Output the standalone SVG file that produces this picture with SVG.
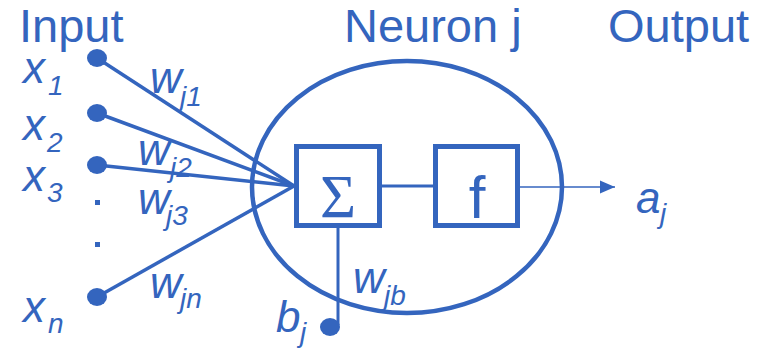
<svg xmlns="http://www.w3.org/2000/svg" width="764" height="351" viewBox="0 0 764 351">
<style>
.t{font-family:"Liberation Sans",Arial,sans-serif;fill:#3465BE}
.h{font-size:47px}
.v{font-size:44px;font-style:italic}
.s{font-size:28px;font-style:italic}
.ln{stroke:#3465BE;fill:none}
.dot{fill:#3465BE}
</style>
<defs>
<marker id="arr" markerWidth="16" markerHeight="14" refX="15" refY="7" orient="auto" markerUnits="userSpaceOnUse">
<path d="M0,0.5 L15,7 L0,13.5 Z" fill="#3465BE"/>
</marker>
</defs>
<rect width="764" height="351" fill="#fff"/>
<g id="headers">
<text class="t h" x="19" y="42">Input</text>
<text class="t h" x="344" y="42">Neuron j</text>
<text class="t h" x="608" y="42">Output</text>
</g>
<g id="neuron">
<ellipse class="ln" cx="407" cy="187" rx="155" ry="126" stroke-width="4.5"/>
</g>
<g id="connectors">
<line class="ln" x1="97" y1="58" x2="294" y2="186" stroke-width="3.5"/>
<line class="ln" x1="97" y1="113" x2="294" y2="186" stroke-width="3.5"/>
<line class="ln" x1="97" y1="165" x2="294" y2="186" stroke-width="3.5"/>
<line class="ln" x1="97" y1="297" x2="294" y2="186" stroke-width="3.5"/>
<line class="ln" x1="382" y1="186" x2="434" y2="186" stroke-width="3"/>
<line class="ln" x1="338" y1="227" x2="338" y2="325" stroke-width="3"/>
<line class="ln" x1="519" y1="187" x2="615" y2="187" stroke-width="1.6" marker-end="url(#arr)"/>
</g>
<g id="inputs">
<ellipse class="dot" cx="97" cy="58" rx="10" ry="9"/>
<ellipse class="dot" cx="97" cy="113" rx="10" ry="9"/>
<ellipse class="dot" cx="97" cy="165" rx="10" ry="9"/>
<ellipse class="dot" cx="97" cy="297" rx="10" ry="9"/>
<rect class="dot" x="95" y="200" width="5" height="5"/>
<rect class="dot" x="95" y="242" width="5" height="5"/>
<text class="t v" x="23" y="83">x</text><text class="t s" x="48" y="95">1</text>
<text class="t v" x="23" y="140">x</text><text class="t s" x="47" y="152">2</text>
<text class="t v" x="23" y="191">x</text><text class="t s" x="47" y="202">3</text>
<text class="t v" x="23" y="322">x</text><text class="t s" x="48" y="333">n</text>
</g>
<g id="weights">
<text class="t v" x="150" y="93">w</text><text class="t s" x="180" y="106">j1</text>
<text class="t v" x="138" y="165">w</text><text class="t s" x="170" y="177">j2</text>
<text class="t v" x="138" y="214">w</text><text class="t s" x="166" y="225">j3</text>
<text class="t v" x="150" y="298">w</text><text class="t s" x="180" y="308">jn</text>
<text class="t v" x="353" y="293">w</text><text class="t s" x="384" y="305">jb</text>
</g>
<g id="sum">
<rect class="ln" x="296.5" y="146.5" width="83" height="79" stroke-width="5"/>
<text x="338" y="217" text-anchor="middle" font-family="'Liberation Serif','Times New Roman',serif" font-size="62" fill="#3465BE">Σ</text>
</g>
<g id="activation">
<rect class="ln" x="435.5" y="146.5" width="82" height="79" stroke-width="5"/>
<text class="t" x="477" y="218" text-anchor="middle" font-size="60">f</text>
</g>
<g id="bias">
<ellipse class="dot" cx="330" cy="327" rx="10" ry="9"/>
<text class="t v" x="276" y="332">b</text><text class="t s" x="300" y="342">j</text>
</g>
<g id="output">
<text class="t v" x="636" y="213">a</text><text class="t s" x="660" y="223">j</text>
</g>
</svg>
